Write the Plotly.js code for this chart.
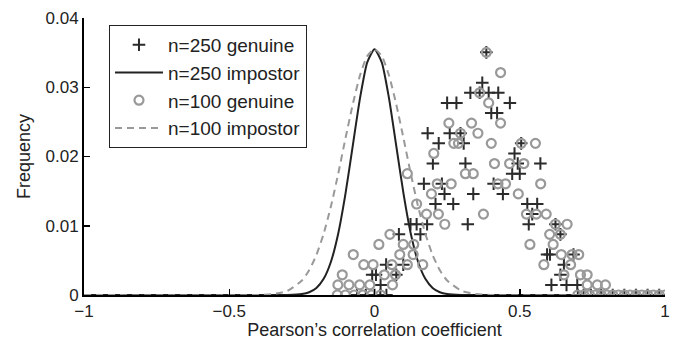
<!DOCTYPE html>
<html>
<head>
<meta charset="utf-8">
<script src="https://cdn.plot.ly/plotly-3.0.1.min.js"></script>
<style>html,body{margin:0;padding:0;background:#fff}#chart{width:679px;height:340px}</style>
</head>
<body>
<div id="chart"></div>
<script>
// n=250 genuine (plus markers)
var g250X = [0.385,
  0.371,
  0.330, 0.362, 0.393, 0.426,
  0.250, 0.282, 0.466,
  0.402, 0.422,
  0.183, 0.259, 0.296,
  0.221, 0.307, 0.505,
  0.482,
  0.201, 0.313, 0.493, 0.571,
  0.474, 0.500,
  0.170, 0.232, 0.410,
  0.241, 0.340, 0.442,
  0.210, 0.271, 0.526, 0.560,
  0.543,
  0.124, 0.145, 0.181, 0.321, 0.531, 0.623,
  0.084, 0.158, 0.640,
  0.594, 0.604, 0.685,
  0.040, 0.099, 0.652,
  -0.008, 0.005, 0.075, 0.640,
  0.021, 0.609, 0.661, 0.698,
  -0.06, -0.03, 0.0, 0.02, 0.041, 0.70, 0.72, 0.745, 0.78, 0.82, 0.86, 0.90, 0.94, 0.98];
var g250Y = [0.03504,
  0.03066,
  0.0292, 0.0292, 0.0292, 0.0292,
  0.02774, 0.02774, 0.02774,
  0.02628, 0.02628,
  0.02336, 0.02336, 0.02336,
  0.0219, 0.0219, 0.0219,
  0.02044,
  0.01898, 0.01898, 0.01898, 0.01898,
  0.01752, 0.01752,
  0.01606, 0.01606, 0.01606,
  0.0146, 0.0146, 0.0146,
  0.01314, 0.01314, 0.01314, 0.01314,
  0.01168,
  0.01022, 0.01022, 0.01022, 0.01022, 0.01022, 0.01022,
  0.00876, 0.00876, 0.00876,
  0.00584, 0.00584, 0.00584,
  0.00438, 0.00438, 0.00438,
  0.00292, 0.00292, 0.00292, 0.00292,
  0.00146, 0.00146, 0.00146, 0.00146,
  0, 0, 0, 0, 0, 0, 0, 0, 0, 0, 0, 0, 0, 0];

// n=100 genuine (circle markers)
var g100X = [0.385,
  0.434,
  0.362,
  0.393,
  0.256, 0.334, 0.434,
  0.296, 0.356,
  0.273, 0.289, 0.402, 0.505, 0.554,
  0.204,
  0.413, 0.465, 0.514,
  0.113, 0.313, 0.340,
  0.216, 0.264, 0.425, 0.451, 0.572,
  0.196, 0.495,
  0.145,
  0.179, 0.220, 0.375, 0.523, 0.557, 0.591,
  0.242, 0.623, 0.663,
  0.053, 0.603, 0.640,
  0.015, 0.099, 0.135, 0.535, 0.615,
  -0.073, 0.087, 0.133, 0.643, 0.680, 0.703,
  -0.037, -0.005, 0.060, 0.113, 0.166, 0.583, 0.675,
  -0.111, 0.034, 0.072, 0.652, 0.709, 0.732,
  -0.126, -0.088, -0.051, -0.016, 0.062, 0.732, 0.767, 0.795,
  -0.128, -0.10, -0.07, -0.04, -0.01, 0.021, 0.70, 0.72, 0.74, 0.76, 0.78, 0.80, 0.82, 0.84, 0.86, 0.88, 0.90, 0.92, 0.94, 0.96, 0.98, 1.0];
var g100Y = [0.03504,
  0.03212,
  0.0292,
  0.02774,
  0.02482, 0.02482, 0.02482,
  0.02336, 0.02336,
  0.0219, 0.0219, 0.0219, 0.0219, 0.0219,
  0.02044,
  0.01898, 0.01898, 0.01898,
  0.01752, 0.01752, 0.01752,
  0.01606, 0.01606, 0.01606, 0.01606, 0.01606,
  0.0146, 0.0146,
  0.01314,
  0.01168, 0.01168, 0.01168, 0.01168, 0.01168, 0.01168,
  0.01022, 0.01022, 0.01022,
  0.00876, 0.00876, 0.00876,
  0.0073, 0.0073, 0.0073, 0.0073, 0.0073,
  0.00584, 0.00584, 0.00584, 0.00584, 0.00584, 0.00584,
  0.00438, 0.00438, 0.00438, 0.00438, 0.00438, 0.00438, 0.00438,
  0.00292, 0.00292, 0.00292, 0.00292, 0.00292, 0.00292,
  0.00146, 0.00146, 0.00146, 0.00146, 0.00146, 0.00146, 0.00146, 0.00146,
  0, 0, 0, 0, 0, 0, 0, 0, 0, 0, 0, 0, 0, 0, 0, 0, 0, 0, 0, 0, 0, 0];

// impostor distributions
var impX = [-1, -0.4, -0.35, -0.3, -0.25, -0.225, -0.2, -0.175, -0.15, -0.125, -0.1, -0.075, -0.05, -0.025, 0,
  0.025, 0.05, 0.075, 0.1, 0.125, 0.15, 0.175, 0.2, 0.225, 0.25, 0.3, 0.35, 0.4, 1];
var imp250Y = [0, 0, 0, 0.00001, 0.00014, 0.00039, 0.00101, 0.00233, 0.0048, 0.00885, 0.0146, 0.0215, 0.0284, 0.0336, 0.0355,
  0.0336, 0.0284, 0.0215, 0.0146, 0.00885, 0.0048, 0.00233, 0.00101, 0.00039, 0.00014, 0.00001, 0, 0, 0];
var imp100Y = [0, 0, 0.00014, 0.0006, 0.00209, 0.00357, 0.00578, 0.00885, 0.0128, 0.0175, 0.0226, 0.0275, 0.0317, 0.0345, 0.0355,
  0.0345, 0.0317, 0.0275, 0.0226, 0.0175, 0.0128, 0.00885, 0.00578, 0.00357, 0.00209, 0.0006, 0.00014, 0, 0];

var names = ['n=250 genuine', 'n=250 impostor', 'n=100 genuine', 'n=100 impostor'];
var xTicks = [-1, -0.5, 0, 0.5, 1];
var xTickText = ['\u22121', '\u22120.5', '0', '0.5', '1'];
var yTicks = [0, 0.01, 0.02, 0.03, 0.04];
var yTickText = ['0', '0.01', '0.02', '0.03', '0.04'];

var FONT = 'Liberation Sans, Arial, Helvetica, sans-serif';

var traces = [
  {x: g250X, y: g250Y, name: names[0], type: 'scatter', mode: 'markers',
   marker: {symbol: 'cross-thin-open', size: 9, color: '#2b2b2b', line: {color: '#2b2b2b', width: 2}}},
  {x: impX, y: imp250Y, name: names[1], type: 'scatter', mode: 'lines',
   line: {color: '#222', width: 2, shape: 'spline', smoothing: 0.6}},
  {x: g100X, y: g100Y, name: names[2], type: 'scatter', mode: 'markers',
   marker: {symbol: 'circle-open', size: 9, color: '#999', line: {color: '#999', width: 2.2}}},
  {x: impX, y: imp100Y, name: names[3], type: 'scatter', mode: 'lines',
   line: {color: '#999', width: 2, dash: '7px,5px', shape: 'spline', smoothing: 0.6}}
];

var layout = {
  width: 679, height: 340,
  margin: {l: 84, r: 14, t: 18, b: 45},
  paper_bgcolor: '#fff', plot_bgcolor: '#fff',
  font: {family: FONT, size: 17, color: '#222'},
  showlegend: true,
  legend: {x: 0.043, y: 0.975, xanchor: 'left', yanchor: 'top',
    bgcolor: '#fff', bordercolor: '#222', borderwidth: 1, itemwidth: 48,
    font: {family: FONT, size: 19, color: '#222'}, tracegroupgap: 0},
  xaxis: {range: [-1, 1], tickvals: xTicks, ticktext: xTickText,
    ticks: 'inside', ticklen: 6, tickwidth: 1.5, tickcolor: '#000',
    showline: true, linecolor: '#000', linewidth: 2, mirror: false,
    showgrid: false, zeroline: false,
    tickfont: {family: FONT, size: 17, color: '#222'},
    title: {text: 'Pearson\u2019s correlation coefficient', font: {family: FONT, size: 18, color: '#222'}, standoff: 6}},
  yaxis: {range: [0, 0.04], tickvals: yTicks, ticktext: yTickText,
    ticks: 'inside', ticklen: 6, tickwidth: 1.5, tickcolor: '#000',
    showline: true, linecolor: '#000', linewidth: 2, mirror: false,
    showgrid: false, zeroline: false,
    tickfont: {family: FONT, size: 17, color: '#222'},
    title: {text: 'Frequency', font: {family: FONT, size: 18, color: '#222'}, standoff: 10}}
};

Plotly.newPlot('chart', traces, layout, {staticPlot: true, displayModeBar: false});
</script>
</body>
</html>
